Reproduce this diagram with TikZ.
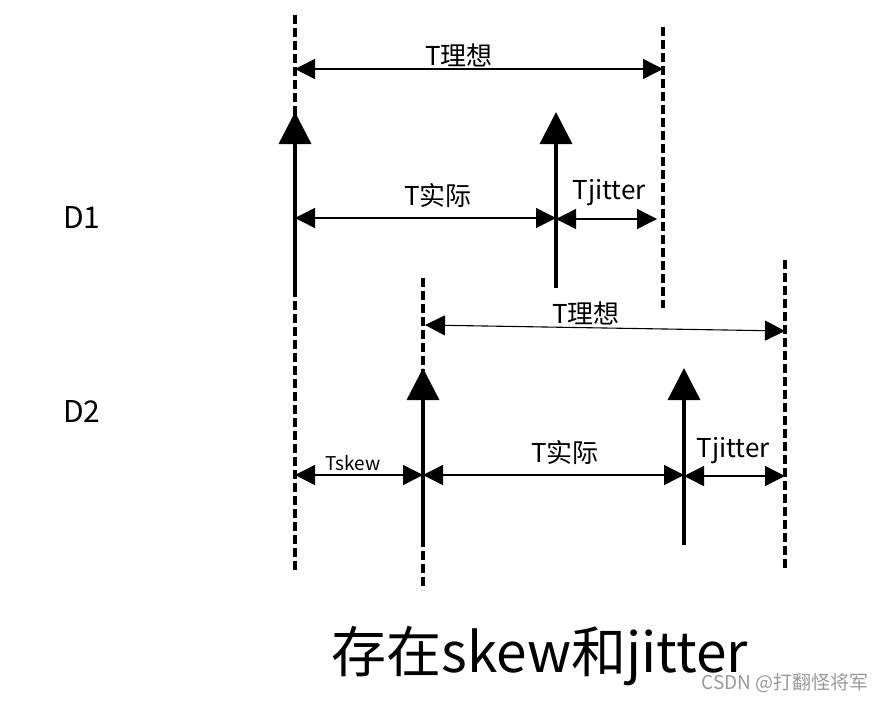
\documentclass[tikz,border=0pt]{standalone}
\usepackage{fontspec}
\setmainfont{Noto Sans CJK SC}
\usetikzlibrary{arrows.meta}
\tikzset{
  guide/.style={line width=3.6pt, dash pattern=on 9pt off 4pt},
  edge/.style={line width=3.4pt, -{Triangle[length=32pt,width=32pt]}},
  dim/.style={line width=1.4pt, {Triangle[length=20pt,width=20pt]}-{Triangle[length=20pt,width=20pt]}},
  lbl/.style={font=\fontsize{26}{28}\selectfont, inner sep=0pt},
  sidelbl/.style={font=\fontsize{30}{32}\selectfont, inner sep=0pt},
}
\begin{document}
\begin{tikzpicture}[x=1pt,y=-1pt]
\path[use as bounding box, fill=white] (0,0) rectangle (885,701);
% coordinates
\coordinate (a1t) at (295,15);  \coordinate (a1b) at (295,570);
\coordinate (b1t) at (663,27);  \coordinate (b1b) at (663,308);
\coordinate (e1b) at (295,290); \coordinate (e1t) at (295,112);
\coordinate (e2b) at (556,288); \coordinate (e2t) at (556,112);
\coordinate (a2t) at (423,278); \coordinate (a2b) at (423,590);
\coordinate (b2t) at (785,260); \coordinate (b2b) at (785,570);
\coordinate (e3b) at (423,545); \coordinate (e3t) at (423,368);
\coordinate (e4b) at (684,545); \coordinate (e4t) at (684,368);
% guides
\draw[guide] (a1t) -- (a1b);
\draw[guide] (b1t) -- (b1b);
\draw[guide] (a2t) -- (a2b);
\draw[guide] (b2t) -- (b2b);
% edges
\draw[edge] (e1b) -- (e1t);
\draw[edge] (e2b) -- (e2t);
\draw[edge] (e3b) -- (e3t);
\draw[edge] (e4b) -- (e4t);
% D1 dims
\coordinate (p1) at (295,69); \coordinate (p2) at (663,69);
\draw[dim] (p1) -- (p2);
\node[lbl] (t1) at (459,55) {T理想};
\coordinate (p3) at (295,218); \coordinate (p4) at (556,218);
\draw[dim] (p3) -- (p4);
\node[lbl] (t2) at (438,196) {T实际};
\coordinate (p5) at (556,219); \coordinate (p6) at (657,219);
\draw[dim] (p5) -- (p6);
\node[lbl] (t3) at (609,193) {Tjitter};
% D2 dims
\coordinate (q1) at (425,325); \coordinate (q2) at (785,331);
\draw[dim, line width=1.1pt] (q1) -- (q2);
\node[lbl] (t4) at (586,313) {T理想};
\coordinate (q3) at (295,475); \coordinate (q4) at (423,475);
\draw[dim] (q3) -- (q4);
\node[lbl, font=\fontsize{19}{21}\selectfont] (t5) at (353,463) {Tskew};
\coordinate (q5) at (423,475); \coordinate (q6) at (684,475);
\draw[dim] (q5) -- (q6);
\node[lbl] (t6) at (565,453) {T实际};
\coordinate (q7) at (684,476); \coordinate (q8) at (785,476);
\draw[dim] (q7) -- (q8);
\node[lbl] (t7) at (733,451) {Tjitter};
% side labels
\node[sidelbl] (d1) at (82,218) {D1};
\node[sidelbl] (d2) at (82,411) {D2};
% title
\node[inner sep=0pt, font=\fontsize{55}{60}\selectfont] (title) at (540,656) {存在skew和jitter};
\node[inner sep=0pt, text=black!40, font=\fontsize{19}{21}\selectfont] (wm) at (785,683) {CSDN @打翻怪将军};
\end{tikzpicture}
\end{document}
